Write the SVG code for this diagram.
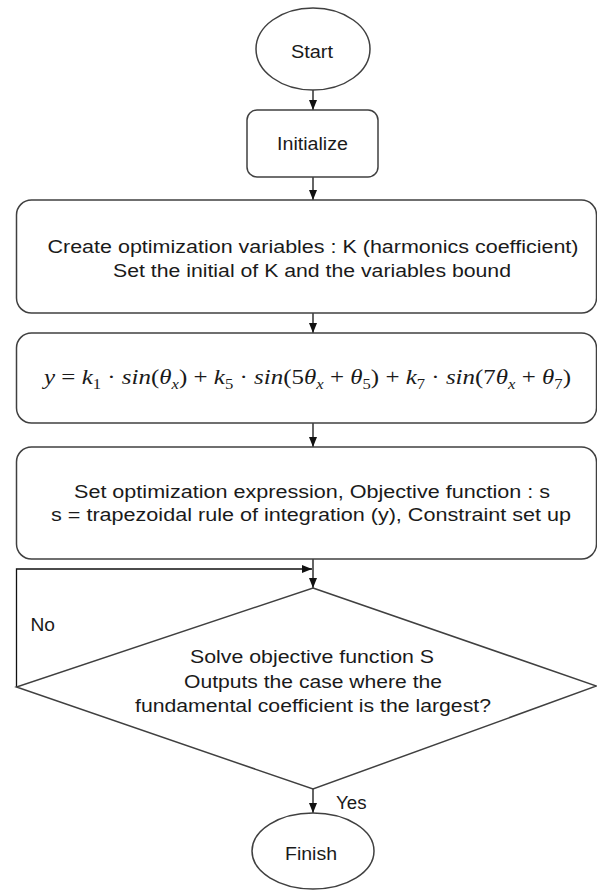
<svg xmlns="http://www.w3.org/2000/svg" width="597" height="891" viewBox="0 0 597 891">
<style>
  .node { fill: #ffffff; stroke: #404040; stroke-width: 1.5; }
  .lbl { font-family: "Liberation Sans", Arial, sans-serif; font-size: 17.5px; fill: #1a1a1a; }
  .math { font-family: "Liberation Serif", "Times New Roman", serif; font-size: 21px; fill: #1a1a1a; }
  .it { font-style: italic; }
  .sub { font-size: 14px; }
  .conn { fill: none; stroke: #111111; stroke-width: 1.3; }
</style>
<defs>
  <marker id="arrow" viewBox="0 0 10 8" refX="10" refY="4" markerWidth="10" markerHeight="8" markerUnits="userSpaceOnUse" orient="auto">
    <path d="M0,0 L10,4 L0,8 Z" fill="#111111"/>
  </marker>
</defs>
<rect width="597" height="891" fill="#ffffff"/>

<g id="connectors">
  <line class="conn" x1="313" y1="90" x2="313" y2="110" marker-end="url(#arrow)"/>
  <line class="conn" x1="313" y1="177" x2="313" y2="200" marker-end="url(#arrow)"/>
  <line class="conn" x1="313" y1="313" x2="313" y2="333" marker-end="url(#arrow)"/>
  <line class="conn" x1="313" y1="423" x2="313" y2="447" marker-end="url(#arrow)"/>
  <line class="conn" x1="313" y1="559" x2="313" y2="588" marker-end="url(#arrow)"/>
  <polyline class="conn" points="16.5,687 16.5,569 312,569" marker-end="url(#arrow)"/>
  <line class="conn" x1="313" y1="789" x2="313" y2="813" marker-end="url(#arrow)"/>
  <text class="lbl" x="30.5" y="631" textLength="24.5" lengthAdjust="spacingAndGlyphs">No</text>
  <text class="lbl" x="336" y="809" textLength="30.5" lengthAdjust="spacingAndGlyphs">Yes</text>
</g>

<g id="start">
  <ellipse class="node" cx="313" cy="49" rx="57" ry="41"/>
  <text class="lbl" x="291" y="57.5" textLength="42" lengthAdjust="spacingAndGlyphs">Start</text>
</g>

<g id="initialize">
  <rect class="node" x="247" y="110" width="131" height="67" rx="10" ry="10"/>
  <text class="lbl" x="277" y="150" textLength="71" lengthAdjust="spacingAndGlyphs">Initialize</text>
</g>

<g id="create-variables">
  <rect class="node" x="16.5" y="200" width="580" height="113" rx="15" ry="15"/>
  <text class="lbl" x="47.5" y="252.5" textLength="531" lengthAdjust="spacingAndGlyphs">Create optimization variables : K (harmonics coefficient)</text>
  <text class="lbl" x="113" y="277" textLength="398" lengthAdjust="spacingAndGlyphs">Set the initial of K and the variables bound</text>
</g>

<g id="formula">
  <rect class="node" x="16.5" y="333" width="580" height="90" rx="15" ry="15"/>
  <text class="math" x="44" y="384" textLength="527" lengthAdjust="spacingAndGlyphs"><tspan class="it">y</tspan><tspan> = </tspan><tspan class="it">k</tspan><tspan class="sub" dy="5">1</tspan><tspan dy="-5"> · </tspan><tspan class="it">sin</tspan><tspan>(</tspan><tspan class="it">θ</tspan><tspan class="sub it" dy="5">x</tspan><tspan dy="-5">) + </tspan><tspan class="it">k</tspan><tspan class="sub" dy="5">5</tspan><tspan dy="-5"> · </tspan><tspan class="it">sin</tspan><tspan>(5</tspan><tspan class="it">θ</tspan><tspan class="sub it" dy="5">x</tspan><tspan dy="-5"> + </tspan><tspan class="it">θ</tspan><tspan class="sub" dy="5">5</tspan><tspan dy="-5">) + </tspan><tspan class="it">k</tspan><tspan class="sub" dy="5">7</tspan><tspan dy="-5"> · </tspan><tspan class="it">sin</tspan><tspan>(7</tspan><tspan class="it">θ</tspan><tspan class="sub it" dy="5">x</tspan><tspan dy="-5"> + </tspan><tspan class="it">θ</tspan><tspan class="sub" dy="5">7</tspan><tspan dy="-5">)</tspan></text>
</g>

<g id="set-expression">
  <rect class="node" x="16.5" y="447" width="580" height="112" rx="15" ry="15"/>
  <text class="lbl" x="74" y="498" textLength="476" lengthAdjust="spacingAndGlyphs">Set optimization expression, Objective function : s</text>
  <text class="lbl" x="51" y="521" textLength="520" lengthAdjust="spacingAndGlyphs">s = trapezoidal rule of integration (y), Constraint set up</text>
</g>

<g id="decision">
  <polygon class="node" points="313,588 596.5,686 313,789 16.5,687"/>
  <text class="lbl" x="190" y="663" textLength="244" lengthAdjust="spacingAndGlyphs">Solve objective function S</text>
  <text class="lbl" x="184" y="687.5" textLength="258" lengthAdjust="spacingAndGlyphs">Outputs the case where the</text>
  <text class="lbl" x="135" y="712" textLength="356" lengthAdjust="spacingAndGlyphs">fundamental coefficient is the largest?</text>
</g>

<g id="finish">
  <ellipse class="node" cx="313" cy="851" rx="61" ry="38"/>
  <text class="lbl" x="285" y="860" textLength="52" lengthAdjust="spacingAndGlyphs">Finish</text>
</g>
</svg>
